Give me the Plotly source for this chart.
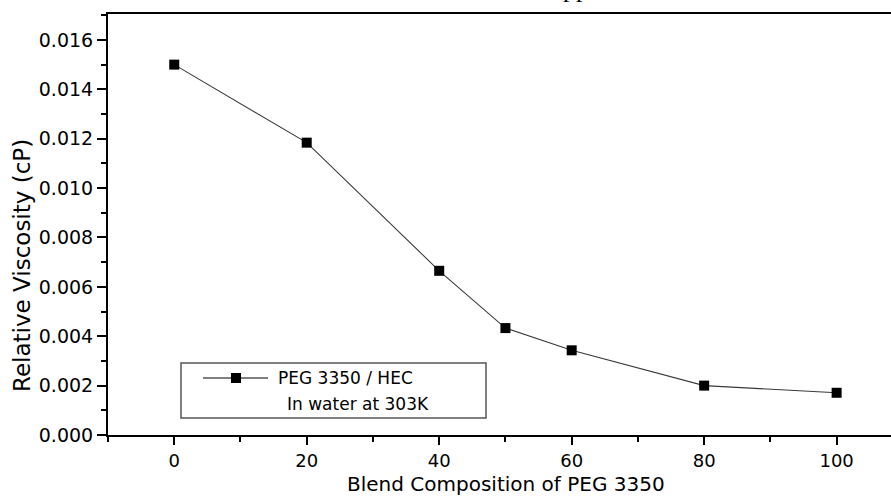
import plotly.graph_objects as go

# Data
blend = [0, 20, 40, 50, 60, 80, 100]
viscosity = [0.0150, 0.01184, 0.00665, 0.00433, 0.00343, 0.00200, 0.00171]
x_ticks = [0, 20, 40, 60, 80, 100]
y_ticks = [0.000, 0.002, 0.004, 0.006, 0.008, 0.010, 0.012, 0.014, 0.016]
y_tick_labels = ["0.000", "0.002", "0.004", "0.006", "0.008", "0.010", "0.012", "0.014", "0.016"]
series_name = "PEG 3350 / HEC"
series_note = "In water at 303K"

W, H = 891, 496
L, R, T, B = 108, 0, 14, 61
pw, ph = W - L - R, H - T - B


def px(x):
    return (x - L) / pw


def py(y):
    return (H - B - y) / ph


FONT = "DejaVu Sans"

fig = go.Figure()
fig.add_trace(go.Scatter(
    x=blend, y=viscosity, mode="lines+markers",
    line=dict(color="#3a3a3a", width=1.1),
    marker=dict(symbol="square", size=10, color="black"),
    showlegend=False, name=series_name,
))

fig.update_layout(
    width=W, height=H,
    margin=dict(l=L, r=R, t=T, b=B),
    paper_bgcolor="white", plot_bgcolor="white",
    font=dict(family=FONT, color="black"),
    xaxis=dict(
        range=[-10, -10 + pw / 6.624], tickvals=x_ticks,
        showline=True, linecolor="black", linewidth=2, mirror=True,
        showgrid=False, zeroline=False,
        ticks="outside", ticklen=8, tickwidth=2, tickcolor="black",
        tickfont=dict(size=18, family=FONT),
        minor=dict(dtick=10, tick0=0, ticks="outside", ticklen=5, tickwidth=2, tickcolor="black", showgrid=False),
    ),
    yaxis=dict(
        range=[0, 0.01705], tickvals=y_ticks, ticktext=y_tick_labels,
        showline=True, linecolor="black", linewidth=2,
        showgrid=False, zeroline=False,
        ticks="outside", ticklen=9, tickwidth=2, tickcolor="black",
        tickfont=dict(size=19, family=FONT),
        minor=dict(dtick=0.001, tick0=0, ticks="outside", ticklen=5, tickwidth=2, tickcolor="black", showgrid=False),
    ),
)

annotations = [
    dict(text="Blend Composition of PEG 3350", x=px(506), y=py(484), xref="paper", yref="paper",
         xanchor="center", yanchor="middle", showarrow=False, font=dict(size=20, family=FONT)),
    dict(text="Relative Viscosity (cP)", x=px(22), y=py(266), xref="paper", yref="paper",
         xanchor="center", yanchor="middle", textangle=-90, showarrow=False, font=dict(size=23, family=FONT)),
    dict(text=series_name, x=px(276), y=py(378), xref="paper", yref="paper",
         xanchor="left", yanchor="middle", showarrow=False, font=dict(size=17, family=FONT)),
    dict(text=series_note, x=px(285), y=py(404), xref="paper", yref="paper",
         xanchor="left", yanchor="middle", showarrow=False, font=dict(size=17, family=FONT)),
    dict(text="pp", x=px(576), y=py(5), xref="paper", yref="paper",
         xanchor="center", yanchor="bottom", showarrow=False,
         font=dict(size=26, family="Liberation Serif")),
]
fig.update_layout(annotations=annotations)

shapes = [
    dict(type="rect", xref="paper", yref="paper", x0=px(181), x1=px(486), y0=py(418), y1=py(363),
         line=dict(color="#555555", width=1.5), fillcolor="rgba(0,0,0,0)"),
    dict(type="line", xref="paper", yref="paper", x0=px(203), x1=px(268), y0=py(378), y1=py(378),
         line=dict(color="black", width=1)),
    dict(type="rect", xref="paper", yref="paper", x0=px(231), x1=px(241), y0=py(383), y1=py(373),
         line=dict(width=0), fillcolor="black"),
]
fig.update_layout(shapes=shapes)

fig.write_html("out.html", config={"displayModeBar": False},
               post_script="document.body.style.margin='0';document.body.style.overflow='hidden';")
